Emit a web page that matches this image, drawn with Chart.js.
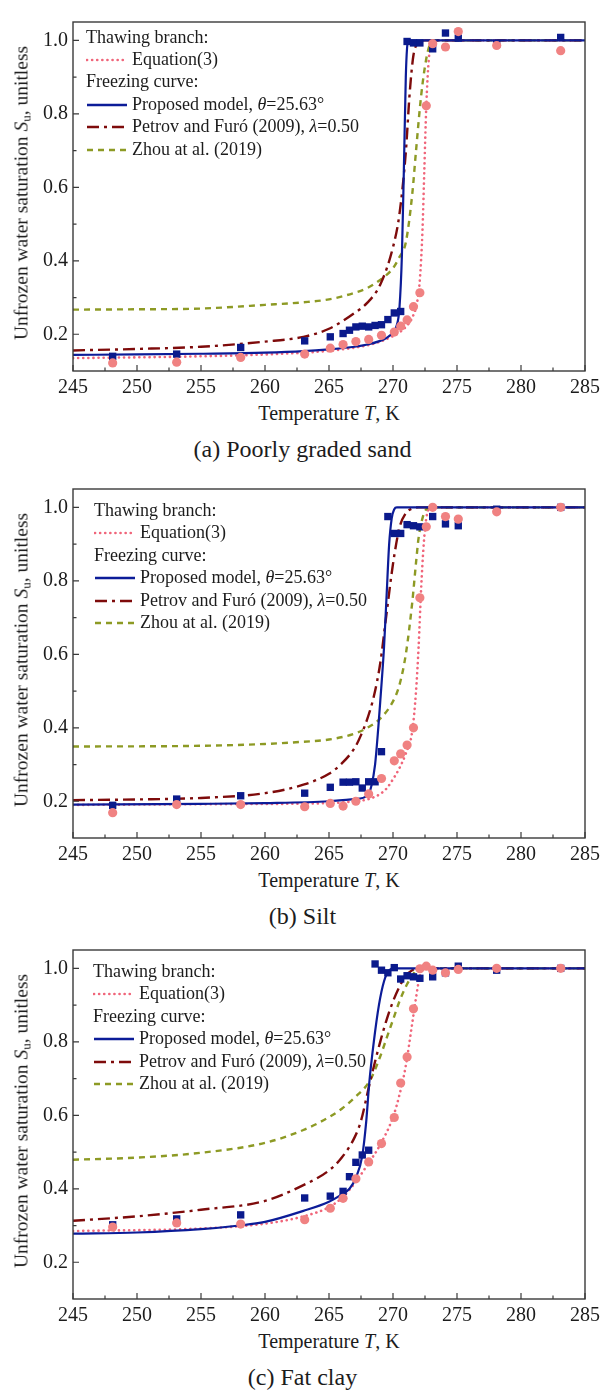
<!DOCTYPE html>
<html><head><meta charset="utf-8">
<script src="https://cdn.jsdelivr.net/npm/chart.js@4.4.1/dist/chart.umd.min.js"></script>
<style>
body{margin:0;background:#fff;width:605px;height:1393px;position:relative;overflow:hidden;font-family:"Liberation Serif","Times New Roman",serif;color:#1c1c1c;}
canvas{position:absolute;left:0;}
.t{position:absolute;white-space:nowrap;line-height:1;}
.lg{font-size:18px;transform:translateY(-55%);}
.sm{position:absolute;}
</style></head><body>
<script>
// ---------- shared axis data ----------
const xTicks=[245,250,255,260,265,270,275,280,285];
const xMinor=[247.5,252.5,257.5,262.5,267.5,272.5,277.5,282.5];
const yTicks=[0.2,0.4,0.6,0.8,1.0];
const yMinor=[0.3,0.5,0.7,0.9];
const captions=["(a) Poorly graded sand","(b) Silt","(c) Fat clay"];

// ---------- (a) Poorly graded sand ----------
const aFrzT=[248.1,253.1,258.1,263.1,265.1,266.1,266.6,267.1,267.6,268.1,268.6,269.1,269.6,270.1,270.6,271.1,271.6,272.1,273.1,274.1,275.1,278.1,283.1];
const aFrzS=[0.140,0.146,0.164,0.182,0.193,0.202,0.211,0.220,0.222,0.220,0.224,0.226,0.240,0.258,0.262,0.997,0.993,0.993,0.977,1.020,1.006,0.990,1.008];
const aThwT=[248.1,253.1,258.1,263.1,265.1,266.1,267.1,268.1,269.1,270.1,270.6,271.1,271.6,272.1,272.6,273.1,274.1,275.1,278.1,283.1];
const aThwS=[0.122,0.124,0.137,0.146,0.162,0.172,0.180,0.186,0.197,0.206,0.222,0.239,0.275,0.313,0.822,0.991,0.982,1.024,0.986,0.972];
const aPropT=[245,250,255,260,263,265,267,268,269,269.5,270,270.3,270.5,270.7,270.85,271.0,271.1,271.2,285];
const aPropS=[0.144,0.145,0.147,0.150,0.154,0.159,0.166,0.172,0.182,0.190,0.205,0.225,0.27,0.42,0.65,0.90,0.98,1.0,1.0];
const aPetT=[245,250,255,260,263,265,267,268,269,270,270.5,271,271.3,271.6,272,272.5,285];
const aPetS=[0.156,0.160,0.166,0.180,0.193,0.215,0.258,0.286,0.335,0.437,0.526,0.695,0.855,0.960,0.993,1.0,1.0];
const aZhoT=[245,250,255,260,263,265,267,268,269,270,270.5,271,271.5,271.8,272.2,272.6,272.9,273.2,285];
const aZhoS=[0.267,0.268,0.270,0.280,0.287,0.295,0.313,0.326,0.348,0.380,0.410,0.450,0.580,0.700,0.850,0.950,0.990,1.0,1.0];
const aEqT=[245,255,260,265,268,269,270,270.5,271,271.5,271.9,272.1,272.3,272.45,272.6,272.8,273.0,273.3,285];
const aEqS=[0.135,0.140,0.145,0.155,0.170,0.180,0.195,0.205,0.220,0.245,0.290,0.350,0.480,0.650,0.820,0.950,0.990,1.0,1.0];

// ---------- (b) Silt ----------
const bFrzT=[248.1,253.1,258.1,263.1,265.1,266.1,266.6,267.1,267.6,268.1,268.6,269.1,269.6,270.1,270.6,271.1,271.6,272.1,273.1,274.1,275.1,278.1,283.1];
const bFrzS=[0.189,0.206,0.215,0.222,0.238,0.252,0.252,0.253,0.236,0.253,0.253,0.335,0.975,0.929,0.929,0.953,0.950,0.947,0.975,0.955,0.950,0.995,1.0];
const bThwT=[248.1,253.1,258.1,263.1,265.1,266.1,267.1,268.1,269.1,270.1,270.6,271.1,271.6,272.1,272.6,273.1,274.1,275.1,278.1,283.1];
const bThwS=[0.169,0.191,0.191,0.185,0.194,0.187,0.200,0.220,0.262,0.310,0.329,0.353,0.400,0.754,0.947,1.0,0.975,0.968,0.988,1.0];
const bPropT=[245,255,260,265,267,268,268.3,268.6,268.85,269.0,269.3,269.5,269.7,269.9,270.1,270.3,285];
const bPropS=[0.191,0.193,0.195,0.200,0.206,0.215,0.240,0.300,0.400,0.470,0.620,0.760,0.900,0.970,0.995,1.0,1.0];
const bPetT=[245,250,255,260,263,265,266,267,267.5,268,268.5,269,269.5,270,270.5,271,271.5,272,285];
const bPetS=[0.203,0.205,0.209,0.222,0.245,0.275,0.303,0.345,0.380,0.425,0.485,0.575,0.712,0.846,0.944,0.984,0.997,1.0,1.0];
const bZhoT=[245,255,260,263,265,267,268,269,270,270.5,271,271.5,271.8,272.0,272.3,272.6,273,285];
const bZhoS=[0.349,0.351,0.356,0.362,0.368,0.384,0.400,0.425,0.472,0.516,0.600,0.740,0.850,0.917,0.970,0.995,1.0,1.0];
const bEqT=[245,255,265,267,268,269,269.5,270,270.5,271,271.5,271.8,272.0,272.2,272.4,272.6,272.9,285];
const bEqS=[0.190,0.192,0.195,0.200,0.205,0.220,0.235,0.260,0.290,0.330,0.390,0.500,0.620,0.780,0.900,0.970,1.0,1.0];

// ---------- (c) Fat clay ----------
const cFrzT=[248.1,253.1,258.1,263.1,265.1,266.1,266.6,267.1,267.6,268.1,268.6,269.1,269.6,270.1,270.6,271.1,271.6,272.1,273.1,274.1,275.1,278.1,283.1];
const cFrzS=[0.302,0.318,0.329,0.375,0.380,0.393,0.433,0.472,0.492,0.505,1.012,0.995,0.988,1.002,0.971,0.980,0.977,0.973,0.977,0.988,1.006,0.995,1.0];
const cThwT=[248.1,253.1,258.1,263.1,265.1,266.1,267.1,268.1,269.1,270.1,270.6,271.1,271.6,272.1,272.6,273.1,274.1,275.1,278.1,283.1];
const cThwS=[0.296,0.307,0.304,0.316,0.347,0.374,0.427,0.473,0.523,0.594,0.688,0.759,0.890,0.999,1.006,0.995,0.988,0.997,1.0,1.0];
const cPropT=[245,250,255,258,260,263,265,266,266.6,267.1,267.6,267.9,268.15,268.5,268.9,269.3,269.7,270.1,285];
const cPropS=[0.278,0.281,0.290,0.300,0.310,0.340,0.365,0.385,0.400,0.430,0.490,0.580,0.690,0.800,0.900,0.965,0.995,1.0,1.0];
const cPetT=[245,250,255,260,263,265,266,267,267.5,268.2,269,269.5,270,270.5,271,271.5,272,285];
const cPetS=[0.313,0.325,0.343,0.367,0.410,0.450,0.485,0.540,0.585,0.690,0.800,0.860,0.910,0.950,0.980,0.995,1.0,1.0];
const cZhoT=[245,250,255,260,263,265,266,267,268.2,269,269.5,270,270.5,271,271.5,272,285];
const cZhoS=[0.479,0.485,0.498,0.525,0.560,0.595,0.618,0.648,0.695,0.760,0.810,0.860,0.910,0.950,0.980,1.0,1.0];
const cEqT=[245,255,260,263,265,266,267,268,269,270,270.5,271,271.5,271.8,272.1,272.4,285];
const cEqS=[0.285,0.292,0.305,0.325,0.350,0.375,0.415,0.465,0.520,0.595,0.655,0.735,0.850,0.920,0.980,1.0,1.0];

// ---------- styling ----------
const COL={blue:'#0c1c98',sq:'#0a1a8c',red:'#7e0b0b',green:'#8d9a24',pinkLine:'#f0657a',pink:'#f08282',axis:'#3a3a3a',text:'#1c1c1c'};
const FONT='"Liberation Serif","Times New Roman",serif';
const panels=[
 {top:15, lgx:86, lgOff:22.5, d:{frzT:aFrzT,frzS:aFrzS,thwT:aThwT,thwS:aThwS,propT:aPropT,propS:aPropS,petT:aPetT,petS:aPetS,zhoT:aZhoT,zhoS:aZhoS,eqT:aEqT,eqS:aEqS}},
 {top:482,lgx:94, lgOff:29, d:{frzT:bFrzT,frzS:bFrzS,thwT:bThwT,thwS:bThwS,propT:bPropT,propS:bPropS,petT:bPetT,petS:bPetS,zhoT:bZhoT,zhoS:bZhoS,eqT:bEqT,eqS:bEqS}},
 {top:943,lgx:93, lgOff:29, d:{frzT:cFrzT,frzS:cFrzS,thwT:cThwT,thwS:cThwS,propT:cPropT,propS:cPropS,petT:cPetT,petS:cPetS,zhoT:cZhoT,zhoS:cZhoS,eqT:cEqT,eqS:cEqS}}
];
const PH=356, PADT=10, XH=30, LEFT=73, RIGHT=585;

const pts=(T,S)=>T.map((t,i)=>({x:t,y:S[i]}));

const frameTicks={
 id:'frameTicks',
 afterDatasetsDraw(chart){
  const {ctx,chartArea:a,scales:{x,y}}=chart;
  ctx.save();
  ctx.strokeStyle=COL.axis; ctx.lineWidth=1.4;
  ctx.strokeRect(a.left,a.top,a.right-a.left,a.bottom-a.top);
  ctx.lineWidth=1.2;
  ctx.beginPath();
  xTicks.forEach(v=>{const p=x.getPixelForValue(v);ctx.moveTo(p,a.bottom);ctx.lineTo(p,a.bottom-6);});
  xMinor.forEach(v=>{const p=x.getPixelForValue(v);ctx.moveTo(p,a.bottom);ctx.lineTo(p,a.bottom-3.5);});
  yTicks.forEach(v=>{const p=y.getPixelForValue(v);ctx.moveTo(a.left,p);ctx.lineTo(a.left+6,p);});
  yMinor.forEach(v=>{const p=y.getPixelForValue(v);ctx.moveTo(a.left,p);ctx.lineTo(a.left+3.5,p);});
  ctx.stroke();
  ctx.restore();
 }
};

function lineDs(label,T,S,color,width,dash,cap,order){
 return {label,data:pts(T,S),showLine:true,borderColor:color,borderWidth:width,borderDash:dash,
   borderCapStyle:cap,pointRadius:0,cubicInterpolationMode:'monotone',order,fill:false};
}

panels.forEach((P,idx)=>{
 const cv=document.createElement('canvas');
 cv.width=605; cv.height=PADT+PH+XH;
 cv.style.top=(P.top-PADT)+'px';
 document.body.appendChild(cv);
 const d=P.d;
 new Chart(cv,{
  type:'scatter',
  data:{datasets:[
   {label:'Thawing data',data:pts(d.thwT,d.thwS),showLine:false,pointStyle:'circle',pointRadius:4.6,backgroundColor:COL.pink,borderWidth:0,order:0},
   {label:'Freezing data',data:pts(d.frzT,d.frzS),showLine:false,pointStyle:'rect',pointRadius:5.2,backgroundColor:COL.sq,borderWidth:0,order:1},
   lineDs('Proposed model',d.propT,d.propS,COL.blue,2.2,[],'butt',2),
   lineDs('Petrov and Furó (2009)',d.petT,d.petS,COL.red,2.4,[12,5,3,5],'butt',3),
   lineDs('Zhou at al. (2019)',d.zhoT,d.zhoS,COL.green,2.4,[6,5],'butt',4),
   lineDs('Equation(3)',d.eqT,d.eqS,COL.pinkLine,2.6,[0.1,5],'round',5)
  ]},
  options:{
   responsive:false,animation:false,devicePixelRatio:1,events:[],
   layout:{padding:{top:PADT,right:605-RIGHT,left:0,bottom:0}},
   plugins:{legend:{display:false},tooltip:{enabled:false}},
   scales:{
    x:{type:'linear',min:245,max:285,
      afterBuildTicks:s=>{s.ticks=xTicks.map(v=>({value:v}));},
      afterFit:s=>{s.height=XH;},
      grid:{display:false,drawTicks:false},border:{display:false},
      ticks:{font:{family:FONT,size:20},color:COL.text,padding:5,maxRotation:0,autoSkip:false}},
    y:{type:'linear',min:0.1,max:1.05,
      afterBuildTicks:s=>{s.ticks=yTicks.map(v=>({value:v}));},
      afterFit:s=>{s.width=LEFT;},
      grid:{display:false,drawTicks:false},border:{display:false},
      ticks:{font:{family:FONT,size:20},color:COL.text,padding:5,autoSkip:false,callback:v=>Number(v).toFixed(1)}}
   }
  },
  plugins:[frameTicks]
 });

 const bottom=P.top+PH;
 // y axis title
 const yt=document.createElement('div');
 yt.className='t';
 yt.style.cssText+='font-size:19.5px;left:22px;top:'+(P.top+PH/2)+'px;transform:translate(-50%,-50%) rotate(-90deg);';
 yt.innerHTML='Unfrozen water saturation <i>S</i><sub style="font-size:13px;vertical-align:-3px">u</sub>, unitless';
 document.body.appendChild(yt);
 // x axis title
 const xt=document.createElement('div');
 xt.className='t';
 xt.style.cssText+='font-size:20px;left:'+((LEFT+RIGHT)/2)+'px;top:'+(bottom+42)+'px;transform:translate(-50%,-50%);';
 xt.innerHTML='Temperature <i>T</i>, K';
 document.body.appendChild(xt);
 // caption
 const cp=document.createElement('div');
 cp.className='t';
 cp.style.cssText+='font-size:24px;left:302.5px;top:'+(bottom+78)+'px;transform:translate(-50%,-50%);';
 cp.textContent=captions[idx];
 document.body.appendChild(cp);

 // legend
 const rows=[
  {txt:'Thawing branch:',head:true},
  {txt:'Equation(3)',c:COL.pinkLine,dash:'0.1 5',cap:'round',w:2.6},
  {txt:'Freezing curve:',head:true},
  {txt:'Proposed model, <i>θ</i>=25.63°',c:COL.blue,dash:'',cap:'butt',w:2.4},
  {txt:'Petrov and Furó (2009), <i>λ</i>=0.50',c:COL.red,dash:'12 5 3 5',cap:'butt',w:2.4},
  {txt:'Zhou at al. (2019)',c:COL.green,dash:'6 5',cap:'butt',w:2.4}
 ];
 rows.forEach((r,i)=>{
  const cy=P.top+P.lgOff+i*22.4;
  const el=document.createElement('div');
  el.className='t lg';
  el.style.left=(r.head?P.lgx:P.lgx+46)+'px';
  el.style.top=cy+'px';
  el.innerHTML=r.txt;
  document.body.appendChild(el);
  if(!r.head){
   const ns='http://www.w3.org/2000/svg';
   const sv=document.createElementNS(ns,'svg');
   sv.setAttribute('width','42');sv.setAttribute('height','10');
   sv.setAttribute('class','sm');
   sv.style.left=P.lgx+'px'; sv.style.top=(cy-5)+'px';
   const ln=document.createElementNS(ns,'line');
   ln.setAttribute('x1','1');ln.setAttribute('x2','41');ln.setAttribute('y1','5');ln.setAttribute('y2','5');
   ln.setAttribute('stroke',r.c);ln.setAttribute('stroke-width',r.w);
   if(r.dash)ln.setAttribute('stroke-dasharray',r.dash);
   ln.setAttribute('stroke-linecap',r.cap);
   sv.appendChild(ln);
   document.body.appendChild(sv);
  }
 });
});
</script>
</body></html>
